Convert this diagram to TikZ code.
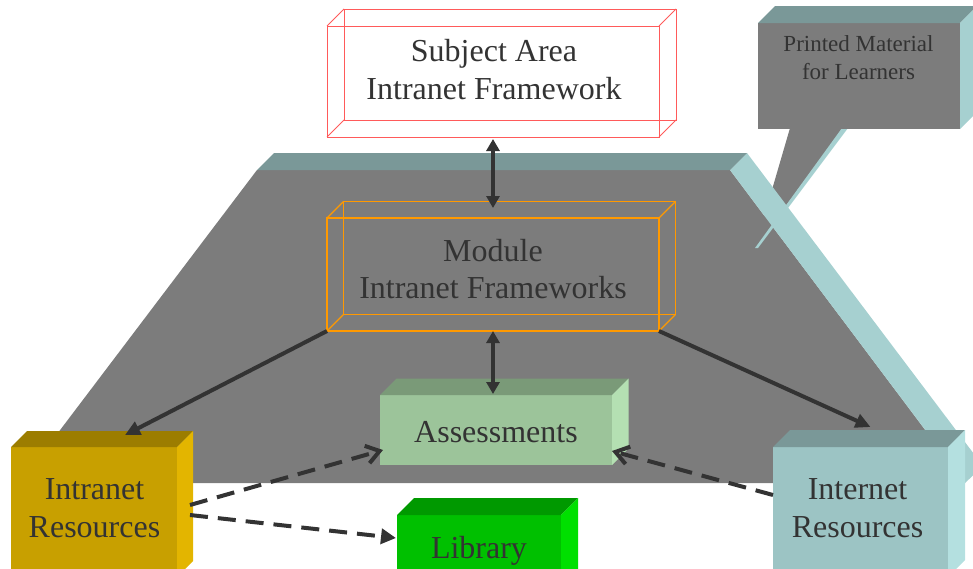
\documentclass[tikz,border=0pt]{standalone}
\usepackage{fontspec}
\setmainfont{Liberation Serif}
\usetikzlibrary{arrows.meta}
\definecolor{txt}{HTML}{333333}
\definecolor{plat}{HTML}{7C7C7C}
\definecolor{tealtop}{HTML}{7A9898}
\definecolor{tealside}{HTML}{A6D0D0}
\definecolor{wirered}{HTML}{FF5A5A}
\definecolor{wireorange}{HTML}{FF9900}
\definecolor{asfront}{HTML}{9CC49A}
\definecolor{astop}{HTML}{7A9A78}
\definecolor{asside}{HTML}{B4E0B2}
\definecolor{libfront}{HTML}{00C000}
\definecolor{libtop}{HTML}{009900}
\definecolor{libside}{HTML}{00E000}
\definecolor{irfront}{HTML}{C8A000}
\definecolor{irtop}{HTML}{9C7D00}
\definecolor{irside}{HTML}{E3B500}
\definecolor{netfront}{HTML}{9CC4C4}
\definecolor{nettop}{HTML}{7A9898}
\definecolor{netside}{HTML}{B4E0E0}
\definecolor{arr}{HTML}{333333}

% top and right faces of a cuboid whose front face is node #1
\newcommand{\boxfaces}[4]{%
  \fill[#2] (#1.north west) -- ++(#4,-#4) -- ([shift={(#4,-#4)}]#1.north east) -- (#1.north east) -- cycle;
  \fill[#3] (#1.north east) -- ++(#4,-#4) -- ([shift={(#4,-#4)}]#1.south east) -- (#1.south east) -- cycle;}
% wireframe cuboid on node #1
\newcommand{\wirebox}[3]{%
  \draw[#2] (#1.north west) rectangle (#1.south east);
  \draw[#2] ([shift={(#3,-#3)}]#1.north west) rectangle ([shift={(#3,-#3)}]#1.south east);
  \draw[#2] (#1.north west) -- ++(#3,-#3);
  \draw[#2] (#1.north east) -- ++(#3,-#3);
  \draw[#2] (#1.south west) -- ++(#3,-#3);
  \draw[#2] (#1.south east) -- ++(#3,-#3);}

\tikzset{
  face/.style={inner sep=0pt, outer sep=0pt, anchor=north west, draw=none},
  lbl/.style={text=txt, font=\fontsize{32}{38}\selectfont, align=center, inner sep=0pt},
  solidarrow/.style={draw=arr, line width=4pt, -{Triangle[length=15pt,width=14pt]}},
  dblarrow/.style={draw=arr, line width=3.5pt, {Triangle[length=12pt,width=13pt]}-{Triangle[length=12pt,width=13pt]}},
  dasharrow/.style={draw=arr, line width=4pt, dash pattern=on 18pt off 10pt},
  openhead/.style={-{Straight Barb[length=13pt,width=18pt]}},
  filledhead/.style={-{Triangle[length=15pt,width=15pt]}},
  redwire/.style={draw=wirered, line width=1pt},
  orangewire/.style={draw=wireorange, line width=1.2pt},
}

\begin{document}
\begin{tikzpicture}[x=1pt,y=-1pt]
\useasboundingbox (0,0) rectangle (973,568);
\clip (0,0) rectangle (973,568);

% platform front
\fill[plat] (257,170) -- (730,170) -- (965,483) -- (20,483) -- cycle;

% callout tail
\fill[plat] (790,128) -- (843,128) -- (755,248) -- cycle;
\fill[tealside] (842,128) -- (848,128) -- (758,248) -- (755,248) -- cycle;

% platform side and top faces
\fill[tealside] (730,170) -- (747,153) -- (983,466) -- (965,483) -- cycle;
\fill[tealtop] (257,170) -- (274,153) -- (747,153) -- (730,170) -- cycle;

% callout box
\node[face, fill=plat, minimum width=202pt, minimum height=106pt] (callout) at (758,23) {};
\boxfaces{callout}{tealtop}{tealside}{17}
\node[text=txt, font=\fontsize{23}{28}\selectfont, align=center, inner sep=0pt] (callouttext) at (858.5,58) {Printed Material\\for Learners};

% subject area wireframe
\node[face, minimum width=332pt, minimum height=111pt] (subj) at (327,26) {};
\wirebox{subj}{redwire}{17}
\node[lbl] (subjtext) at (494,70) {Subject Area\\Intranet Framework};

% module wireframe
\node[face, minimum width=332pt, minimum height=113pt] (mod) at (327,218) {};
\wirebox{mod}{orangewire}{16.5}
\node[lbl, font=\fontsize{32}{37}\selectfont] (modtext) at (493,269.5) {Module\\Intranet Frameworks};

% assessments
\node[face, fill=asfront, minimum width=232pt, minimum height=70pt] (assess) at (380,395) {};
\boxfaces{assess}{astop}{asside}{16.5}
\node[lbl, anchor=base] (assesstext) at (496,442) {Assessments};

% library
\node[face, fill=libfront, minimum width=164pt, minimum height=80pt] (lib) at (397,515) {};
\boxfaces{lib}{libtop}{libside}{17}
\node[lbl, anchor=base] (libtext) at (479,558) {Library};

% intranet resources
\node[face, fill=irfront, minimum width=166pt, minimum height=130pt] (intra) at (11,447) {};
\boxfaces{intra}{irtop}{irside}{16}
\node[lbl] (intratext) at (94.5,508.4) {Intranet\\Resources};

% internet resources
\node[face, fill=netfront, minimum width=175pt, minimum height=130pt] (inter) at (773,447) {};
\boxfaces{inter}{nettop}{netside}{17}
\node[lbl] (intertext) at (857.5,508.4) {Internet\\Resources};

% connectors
\draw[dblarrow, shorten <=2pt, shorten >=10pt] (subj.south) -- (mod.north);
\draw[dblarrow, shorten >=1pt] (mod.south) -- (mod.south |- assess.north);
\draw[solidarrow] (mod.south west) -- ([xshift=31pt,yshift=12pt]intra.north);
\draw[solidarrow] (mod.south east) -- ([xshift=10pt,yshift=20pt]inter.north);
\draw[dasharrow, openhead] ([xshift=13pt,yshift=-58pt]intra.north east) -- ([xshift=3pt,yshift=-55pt]assess.north west);
\draw[dasharrow, filledhead] ([xshift=13pt,yshift=-68pt]intra.north east) -- ([xshift=-1pt,yshift=-23pt]lib.north west);
\draw[dasharrow, openhead] ([yshift=-48pt]inter.north west) -- ([yshift=-56pt]assess.north east);
\end{tikzpicture}
\end{document}
